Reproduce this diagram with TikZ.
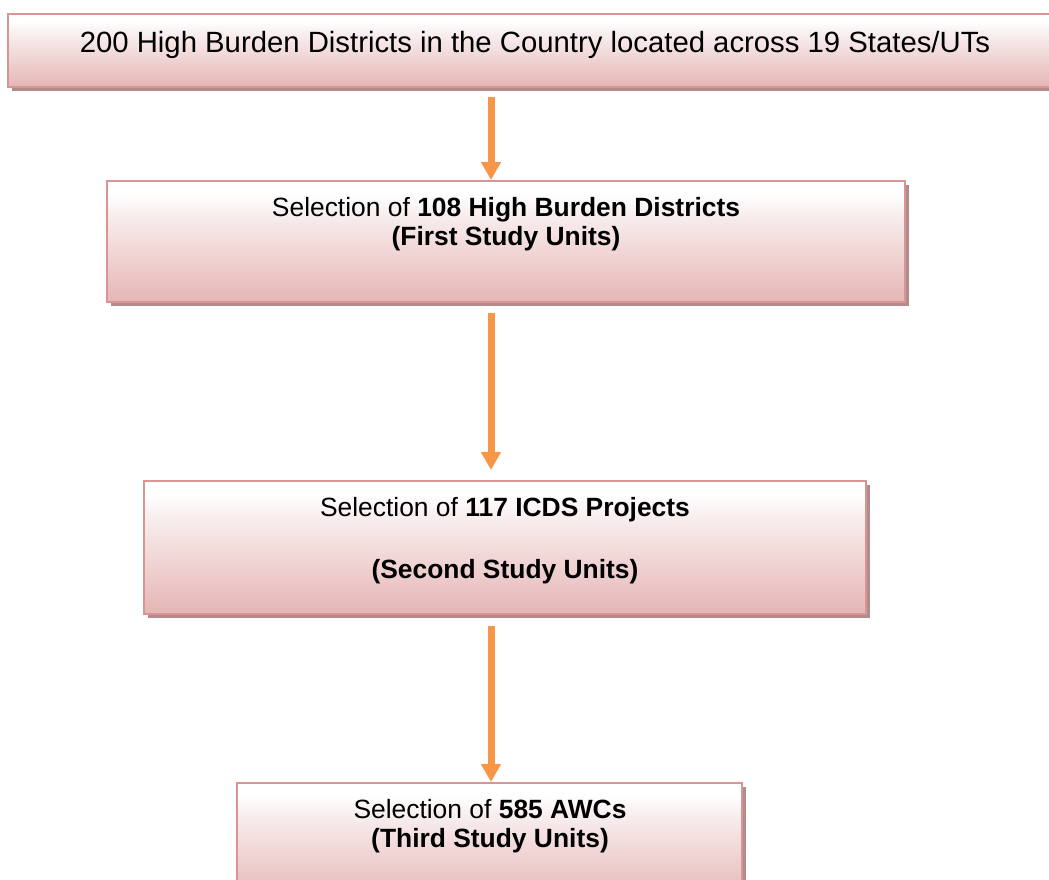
\documentclass[tikz,border=0pt]{standalone}
\usepackage{fontspec}
\setmainfont{Liberation Sans}
\usetikzlibrary{arrows.meta,shadows}
\definecolor{boxborder}{HTML}{D99594}
\definecolor{boxshadow}{HTML}{B28C8C}
\definecolor{pinkb}{HTML}{E5B6B5}
\definecolor{pinkm}{HTML}{F9EFEF}
\definecolor{arrowc}{HTML}{F79646}
\pgfdeclareverticalshading{boxshade}{100bp}{color(0bp)=(pinkb); color(25bp)=(pinkb); color(62bp)=(pinkm); color(70bp)=(white); color(100bp)=(white)}
\begin{document}
\begin{tikzpicture}[x=1pt,y=-1pt,
  flowbox/.style={rectangle, draw=boxborder, line width=2.5pt, shading=boxshade,
    inner sep=0pt, outer sep=0pt,
    drop shadow={shadow xshift=3.5pt, shadow yshift=-4pt, fill=boxshadow, opacity=1}},
  bigtext/.style={font=\fontsize{29.3}{32}\selectfont, inner sep=0pt, anchor=base},
  boxtext/.style={font=\fontsize{26.4}{29}\selectfont, inner sep=0pt, anchor=base, align=center},
  flowarrow/.style={draw=arrowc, line width=7pt, -{Triangle[width=19pt,length=18pt]}}]
\useasboundingbox (0,0) rectangle (1049,880);
\clip (0,0) rectangle (1049,880);
\coordinate (ax) at (491,0);
\node[flowbox, minimum width=1054pt, minimum height=73pt] (b1) at (535,50.5) {};
\node[flowbox, minimum width=798pt, minimum height=121pt] (b2) at (506,241.5) {};
\node[flowbox, minimum width=722pt, minimum height=133pt] (b3) at (505,547.5) {};
\node[flowbox, minimum width=505pt, minimum height=117pt] (b4) at (489.5,841.5) {};
\node[bigtext] (t1) at (535,53) {200 High Burden Districts in the Country located across 19 States/UTs};
\node[boxtext] (t2) at (506,245) {Selection of \textbf{108 High Burden Districts}\\\textbf{(First Study Units)}};
\node[boxtext] (t3) at (505,578) {Selection of \textbf{117 ICDS Projects}\\[33pt]\textbf{(Second Study Units)}};
\node[boxtext] (t4) at (490,847) {Selection of \textbf{585 AWCs}\\\textbf{(Third Study Units)}};
\draw[flowarrow, shorten <=10pt, shorten >=1pt] (b1.south -| ax) -- (b2.north -| ax);
\draw[flowarrow, shorten <=11pt, shorten >=11pt] (b2.south -| ax) -- (b3.north -| ax);
\draw[flowarrow, shorten <=12pt, shorten >=1pt] (b3.south -| ax) -- (b4.north -| ax);
\end{tikzpicture}
\end{document}
